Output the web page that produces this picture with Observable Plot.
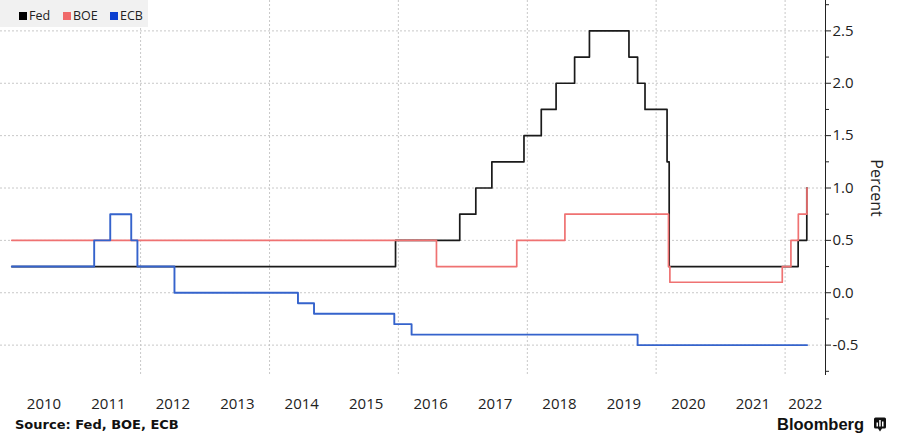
<!DOCTYPE html>
<html><head><meta charset="utf-8">
<script src="https://cdn.jsdelivr.net/npm/d3@7"></script>
<script src="https://cdn.jsdelivr.net/npm/@observablehq/plot@0.6"></script>
<style>
body{margin:0;background:#fff;}
#wrap{position:relative;width:901px;height:437px;overflow:hidden;font-family:"Open Sans",sans-serif;color:#222;}
#chart{position:absolute;left:0;top:0;}
#legend{position:absolute;left:0;top:0;width:148px;height:27px;background:#f1f1f1;font-size:12.5px;}
#legend .sw{position:absolute;top:12px;width:8px;height:8px;}
#legend .lb{position:absolute;top:7px;line-height:17px;}
#percent{position:absolute;left:877px;top:188px;font-size:16px;transform:translate(-50%,-50%) rotate(90deg);white-space:nowrap;}
#source{position:absolute;left:15px;top:416px;font-family:"DejaVu Sans",sans-serif;font-weight:bold;font-size:13px;line-height:18px;color:#111;}
#brand{position:absolute;left:777px;top:414px;font-family:"Liberation Sans",Arial,sans-serif;font-weight:bold;font-size:16.5px;line-height:20px;color:#111;}
#icon{position:absolute;left:874px;top:417px;}
</style>
</head><body>
<div id="wrap">
  <div id="chart"></div>
  <div id="legend"></div>
  <div id="percent">Percent</div>
  <div id="source">Source: Fed, BOE, ECB</div>
  <div id="brand">Bloomberg</div>
  <svg id="icon" width="12" height="15" viewBox="0 0 12 14"><path d="M1.5 0h9a1.5 1.5 0 0 1 1.5 1.5v8a1.5 1.5 0 0 1-1.5 1.5H8l-2 3-2-3H1.5A1.5 1.5 0 0 1 0 9.5v-8A1.5 1.5 0 0 1 1.5 0z" fill="#111"/><rect x="2.5" y="5" width="1.5" height="4" fill="#fff"/><rect x="5.2" y="2.5" width="1.5" height="6.5" fill="#fff"/><rect x="8" y="4" width="1.5" height="5" fill="#fff"/></svg>
</div>
<script>
// ---- data ----
const seriesNames = ["Fed", "BOE", "ECB"];
const seriesColors = ["#1a1a1a", "#ef7272", "#3563cc"];
const legendColors = ["#000000", "#f06a6a", "#0b3fd0"];

// Fed (upper bound of target range), percent
const fedDates = ["2010-01-01","2015-12-16","2016-12-14","2017-03-15","2017-06-14","2017-12-13","2018-03-21","2018-06-13","2018-09-26","2018-12-19","2019-07-31","2019-09-18","2019-10-30","2020-03-03","2020-03-15","2022-03-16","2022-05-04"];
const fedRates = [0.25,0.5,0.75,1.0,1.25,1.5,1.75,2.0,2.25,2.5,2.25,2.0,1.75,1.25,0.25,0.5,1.0];

// BOE bank rate
const boeDates = ["2010-01-01","2016-08-04","2017-11-02","2018-08-02","2020-03-11","2020-03-19","2021-12-16","2022-02-03","2022-03-17","2022-05-05"];
const boeRates = [0.5,0.25,0.5,0.75,0.25,0.1,0.25,0.5,0.75,1.0];

// ECB deposit rate
const ecbDates = ["2010-01-01","2011-04-13","2011-07-13","2011-11-09","2011-12-14","2012-07-11","2014-06-11","2014-09-10","2015-12-09","2016-03-16","2019-09-18"];
const ecbRates = [0.25,0.5,0.75,0.5,0.25,0.0,-0.1,-0.2,-0.3,-0.4,-0.5];

const lastDate = "2022-05-06";

const yearLabels = [2010,2011,2012,2013,2014,2015,2016,2017,2018,2019,2020,2021,2022];
const gridYears = [2012,2014,2016,2018,2020,2022];
const yTicks = [-0.5,0,0.5,1.0,1.5,2.0,2.5];
const yMinorTicks = [-0.75,-0.25,0.25,0.75,1.25,1.75,2.25,2.75];

// ---- build ----
const parse = s => new Date(s + "T00:00:00Z");
const xStart = parse("2009-10-29"), xEnd = parse("2022-08-18");
function build(dates, rates) {
  const rows = dates.map((d, i) => ({date: parse(d), rate: rates[i]}));
  rows.push({date: parse(lastDate), rate: rates[rates.length - 1]});
  return rows;
}
const lines = [build(fedDates, fedRates), build(boeDates, boeRates), build(ecbDates, ecbRates)];

const labelDates = yearLabels.map(y => {
  const a = Math.max(+new Date(Date.UTC(y, 0, 1)), +xStart);
  const b = Math.min(+new Date(Date.UTC(y + 1, 0, 1)), +xEnd);
  return new Date((a + b) / 2);
});
const gridDates = gridYears.map(y => new Date(Date.UTC(y, 0, 1)));

const chart = Plot.plot({
  width: 901, height: 412,
  marginLeft: 0, marginRight: 76, marginTop: 0, marginBottom: 37,
  style: {fontFamily: "'Open Sans', sans-serif", color: "#222", background: "transparent", overflow: "visible"},
  x: {type: "utc", domain: [xStart, xEnd]},
  y: {domain: [-0.79, 2.79]},
  marks: [
    Plot.gridX({ticks: gridDates, stroke: "#c8c8c8", strokeOpacity: 1, strokeDasharray: "2,2"}),
    Plot.gridY({ticks: yTicks, stroke: "#c8c8c8", strokeOpacity: 1, strokeDasharray: "2,2"}),
    ...lines.map((rows, i) => Plot.line(rows, {x: "date", y: "rate", curve: "step-after", stroke: seriesColors[i], strokeWidth: i === 2 ? 1.9 : 1.7})),
    Plot.ruleX([xEnd], {stroke: "#222", strokeWidth: 1}),
    Plot.axisY({anchor: "right", ticks: yTicks, tickSize: 5, tickPadding: 2, tickFormat: d => d.toFixed(1), fontSize: 15, label: null, stroke: "#222"}),
    Plot.axisY({anchor: "right", ticks: yMinorTicks, tickSize: 3, tickFormat: () => "", label: null, stroke: "#222"}),
    Plot.axisX({ticks: labelDates, tickSize: 0, tickPadding: 23, tickFormat: d => String(d.getUTCFullYear()), fontSize: 15, label: null})
  ]
});
document.getElementById("chart").appendChild(chart);

// legend
const legend = document.getElementById("legend");
const swX = [19, 63, 110];
seriesNames.forEach((n, i) => {
  const sw = document.createElement("div");
  sw.className = "sw"; sw.style.left = swX[i] + "px"; sw.style.background = legendColors[i];
  const lb = document.createElement("div");
  lb.className = "lb"; lb.style.left = (swX[i] + 10) + "px"; lb.textContent = n;
  legend.appendChild(sw); legend.appendChild(lb);
});
</script>
</body></html>
